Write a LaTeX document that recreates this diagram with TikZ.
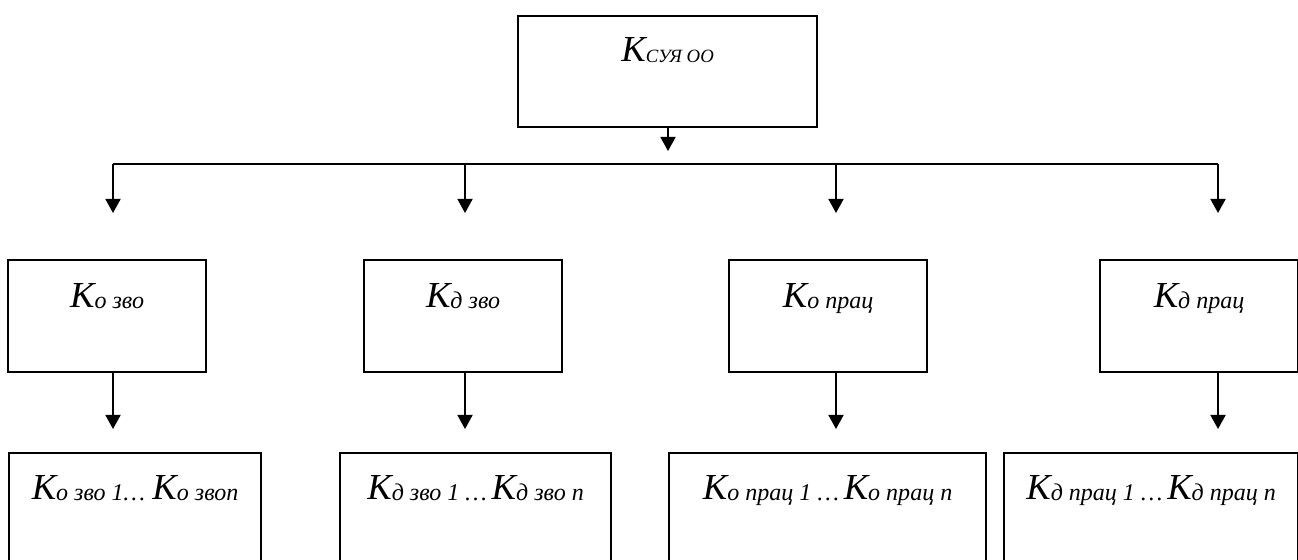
\documentclass[tikz,border=0pt]{standalone}
\usepackage{fontspec}
\setmainfont{Liberation Serif}
\usetikzlibrary{arrows.meta}
\newcommand{\Kk}[1]{{\fontsize{12.5}{14}\selectfont\itshape K}\raisebox{-0.5pt}{\fontsize{8.2}{10}\selectfont\itshape #1}}
\tikzset{
  box/.style={draw, line width=0.7pt, inner sep=0pt, anchor=north west, align=center},
  midbox/.style={box, minimum width=2.376cm, text height=0.564cm, text depth=0.78cm},
  lowbox/.style={box, text height=0.552cm, text depth=1.6cm},
  arr/.style={line width=0.7pt, -{Triangle[length=4.8pt,width=5.1pt]}}
}
\begin{document}
\begin{tikzpicture}[x=0.012cm, y=-0.012cm]
                \useasboundingbox (0,0) rectangle (1298,559);
                \clip (0,0) rectangle (1298,559);
                %top box
                \node[box, minimum width=3.588cm, text height=0.54cm, text depth=0.792cm] (top) at (517,15) {\Kk{\fontsize{6.4}{8}\selectfont СУЯ ОО}};
                %middle row
                \node[midbox] (m1) at (7,259) {\Kk{о зво}};
                \node[midbox] (m2) at (363,259) {\Kk{д зво}};
                \node[midbox] (m3) at (728,259) {\Kk{о прац}};
                \node[midbox] (m4) at (1099,259) {\Kk{д прац}};
                %bottom row
                \node[lowbox, minimum width=3.024cm] (b1) at (8,452) {\Kk{о зво 1…} \Kk{о звоn}};
                \node[lowbox, minimum width=3.252cm] (b2) at (339,452) {\Kk{д зво 1 …}\,\Kk{д зво n}};
                \node[lowbox, minimum width=3.804cm] (b3) at (668,452) {\Kk{о прац 1 …}\,\Kk{о прац n}};
                \node[lowbox, minimum width=3.528cm] (b4) at (1003,452) {\Kk{д прац 1 …}\,\Kk{д прац n}};
                %branch points and arrow ends
                \coordinate (tt) at (668,151);
                \coordinate (c1) at (113,164);
                \coordinate (c2) at (465,164);
                \coordinate (c3) at (836,164);
                \coordinate (c4) at (1218,164);
                \coordinate (t1) at (113,213);
                \coordinate (t2) at (465,213);
                \coordinate (t3) at (836,213);
                \coordinate (t4) at (1218,213);
                \coordinate (l1) at (113,429);
                \coordinate (l2) at (465,429);
                \coordinate (l3) at (836,429);
                \coordinate (l4) at (1218,429);
                \draw[arr] (top.south -| tt) -- (tt);
                \draw[line width=0.9pt] (c1) -- (c4);
                \draw[arr] (c1) -- (t1);
                \draw[arr] (c2) -- (t2);
                \draw[arr] (c3) -- (t3);
                \draw[arr] (c4) -- (t4);
                \draw[arr] (m1.south -| l1) -- (l1);
                \draw[arr] (m2.south -| l2) -- (l2);
                \draw[arr] (m3.south -| l3) -- (l3);
                \draw[arr] (m4.south -| l4) -- (l4);
\end{tikzpicture}
\end{document}
